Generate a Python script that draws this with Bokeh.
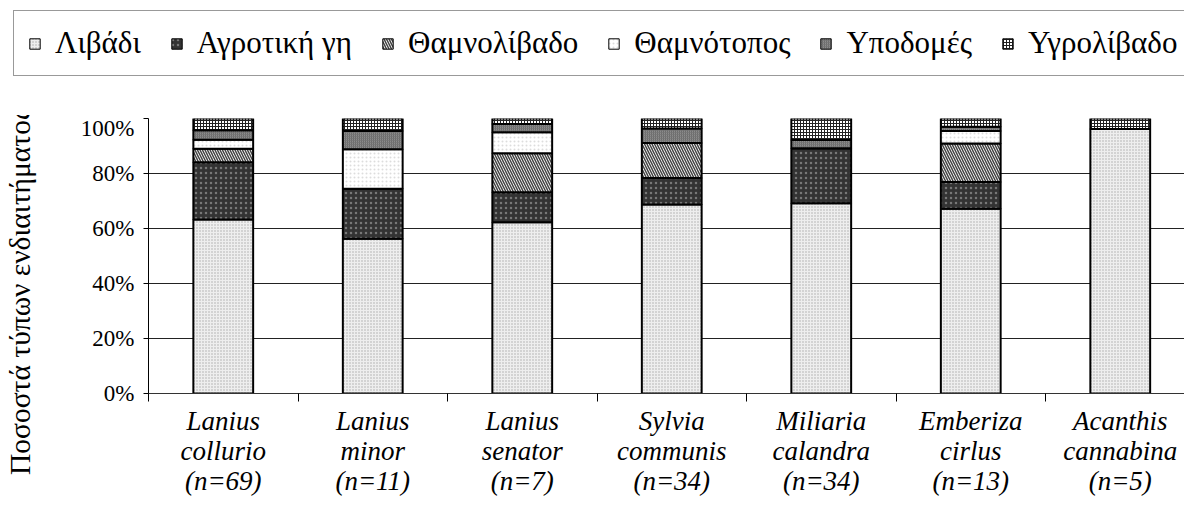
import numpy as np
from bokeh.plotting import figure
from bokeh.layouts import column, row
from bokeh.models import (Range1d, FixedTicker, NumeralTickFormatter, Legend, LegendItem,
                          ColumnDataSource, Div)
from bokeh.embed import file_html
from bokeh.resources import INLINE

# ---- data ----
species = ["Lanius\ncollurio\n(n=69)", "Lanius\nminor\n(n=11)", "Lanius\nsenator\n(n=7)",
           "Sylvia\ncommunis\n(n=34)", "Miliaria\ncalandra\n(n=34)", "Emberiza\ncirlus\n(n=13)",
           "Acanthis\ncannabina\n(n=5)"]
habitats = ["Λιβάδι", "Αγροτική γη", "Θαμνολίβαδο", "Θαμνότοπος", "Υποδομές", "Υγρολίβαδο"]
livadi       = [63.3, 56.3, 62.3, 68.7, 69.2, 67.2, 96.2]
agrotiki     = [20.8, 18.2, 10.9,  9.7, 20.0,  9.7,  0.0]
thamnolivado = [ 4.9,  0.0, 14.2, 12.7,  0.0, 14.0,  0.0]
thamnotopos  = [ 3.3, 14.3,  7.6,  0.0,  0.0,  4.6,  0.0]
ypodomes     = [ 3.4,  6.7,  3.0,  5.3,  3.0,  1.5,  0.0]
ygrolivado   = [ 4.3,  4.5,  2.0,  3.6,  7.8,  3.0,  3.8]
y_ticks = [0, 0.2, 0.4, 0.6, 0.8, 1.0]
y_title = "Ποσοστά τύπων ενδιαιτήματος"

series = [livadi, agrotiki, thamnolivado, thamnotopos, ypodomes, ygrolivado]
n = len(species)
xc = np.arange(n) + 0.5

FONT = "'Liberation Serif', 'Times New Roman', serif"
styles = [
    dict(fill_color="#eeeeee", hatch_pattern="dot", hatch_color="#aaaaaa", hatch_scale=3, hatch_weight=1),
    dict(fill_color="#333333", hatch_pattern="dot", hatch_color="#777777", hatch_scale=5, hatch_weight=1),
    dict(fill_color="#ffffff", hatch_pattern="left_diagonal_line", hatch_color="#444444", hatch_scale=5, hatch_weight=1.5),
    dict(fill_color="#ffffff", hatch_pattern="dot", hatch_color="#dddddd", hatch_scale=4, hatch_weight=1),
    dict(fill_color="#8c8c8c", hatch_pattern="right_diagonal_line", hatch_color="#6a6a6a", hatch_scale=2, hatch_weight=1),
    dict(fill_color="#ffffff", hatch_pattern="cross", hatch_color="#222222", hatch_scale=3, hatch_weight=1),
]

W, H = 1184, 518
TOP_H = 115          # height of legend strip
LBL_W = 48           # width of y-title strip
LEFT, TOP, BOTTOM = 148, 118, 393   # plot frame in page pixels
CAT_PX = 149.5
MAIN_H = H - TOP_H

# bar segments (stacked from the series)
sources = []
bottom = np.zeros(n)
for s in series:
    top = bottom + np.array(s) / 100.0
    sources.append(ColumnDataSource(dict(x=xc, bottom=bottom, top=top)))
    bottom = top

# ---- legend strip (its proxy bars sit hidden behind the opaque legend box) ----
top_fig = figure(width=W, height=TOP_H, x_range=Range1d(-100, 100), y_range=Range1d(-20, 5),
                 output_backend="svg", toolbar_location=None,
                 x_axis_location=None, y_axis_location=None, min_border=0)
top_fig.outline_line_color = None
top_fig.grid.visible = False
leg_renderers = [top_fig.vbar(x="x", bottom="bottom", top="top", width=0.4, source=src,
                              line_color="black", line_width=1, **st)
                 for src, st in zip(sources, styles)]
items = [LegendItem(label=h, renderers=[r]) for h, r in zip(habitats, leg_renderers)]
legend = Legend(items=items, orientation="horizontal", location=(13, TOP_H - 76),
                label_text_font=FONT, label_text_font_size="31px", label_text_color="black",
                glyph_width=13, glyph_height=13, spacing=29, label_standoff=14,
                border_line_color="#333333", border_line_width=1.5, padding=14, margin=0,
                background_fill_color="white", background_fill_alpha=1)
top_fig.add_layout(legend, "center")

# ---- y title strip ----
title_html = (
    '<div style="position:relative;width:%dpx;height:%dpx;overflow:hidden;">'
    '<div style="position:absolute;left:6px;top:%dpx;transform:rotate(-90deg);'
    'transform-origin:0 0;white-space:nowrap;font-family:\'Liberation Serif\',\'Times New Roman\',serif;'
    'font-size:29.5px;line-height:29px;color:black;">%s</div></div>'
    % (LBL_W, MAIN_H, 475 - TOP_H, y_title))
lbl = Div(text=title_html, width=LBL_W, height=MAIN_H, margin=0,
          styles={"overflow": "hidden"})

# ---- main plot ----
p = figure(width=W - LBL_W, height=MAIN_H, x_range=Range1d(0, (W - LEFT) / CAT_PX),
           y_range=Range1d(0, 1), output_backend="svg", toolbar_location=None,
           min_border_left=LEFT - LBL_W, min_border_top=TOP - TOP_H,
           min_border_bottom=H - BOTTOM, min_border_right=0)
p.outline_line_color = None
p.xgrid.visible = False
p.ygrid.ticker = FixedTicker(ticks=y_ticks)
p.ygrid.grid_line_color = "#222222"
p.ygrid.grid_line_width = 1

for src, st in zip(sources, styles):
    p.vbar(x="x", bottom="bottom", top="top", width=0.4, source=src,
           line_color="black", line_width=2, **st)

ya = p.yaxis[0]
ya.ticker = FixedTicker(ticks=y_ticks)
ya.formatter = NumeralTickFormatter(format="0%")
ya.major_tick_out = 5
ya.major_tick_in = 0
ya.minor_tick_line_color = None
ya.axis_line_color = "black"
ya.major_tick_line_color = "black"
ya.major_label_text_font = FONT
ya.major_label_text_font_size = "23px"
ya.major_label_text_color = "black"
ya.major_label_standoff = 9

xa = p.xaxis[0]
xa.ticker = FixedTicker(ticks=list(xc), minor_ticks=list(range(n + 1)))
xa.major_label_overrides = {float(x): s for x, s in zip(xc, species)}
xa.major_tick_line_color = None
xa.minor_tick_out = 8
xa.minor_tick_in = 0
xa.minor_tick_line_color = "black"
xa.axis_line_color = "#333333"
xa.major_label_text_font = FONT
xa.major_label_text_font_style = "italic"
xa.major_label_text_font_size = "27px"
xa.major_label_text_color = "black"
xa.major_label_text_line_height = 1.0
xa.major_label_standoff = 4

layout = column(top_fig, row(lbl, p, spacing=0), spacing=0)
open("out.html", "w").write(file_html(layout, INLINE))
